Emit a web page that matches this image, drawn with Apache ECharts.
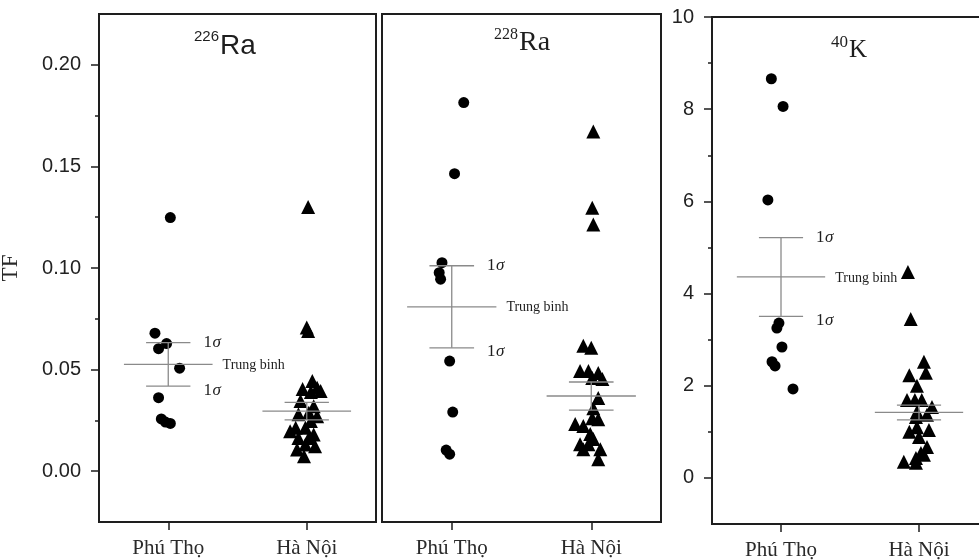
<!DOCTYPE html>
<html>
<head>
<meta charset="utf-8">
<script src="https://cdn.jsdelivr.net/npm/echarts@6/dist/echarts.min.js"></script>
<style>
  html, body { margin: 0; background: #fff; }
  #chart { width: 979px; height: 560px; }
</style>
</head>
<body>
<div id="chart"></div>
<script>
// nhóm (trục x)
const categories = ['Phú Thọ', 'Hà Nội'];
const groupPos = [1, 2];

// 226Ra
const ra226PtValues = [0.1248, 0.0679, 0.0603, 0.0628, 0.0507, 0.0362, 0.0257, 0.0242, 0.0235];
const ra226PtJitter = [0.015, -0.096, -0.07, -0.012, 0.082, -0.07, -0.05, -0.02, 0.015];
const ra226HnValues = [0.130, 0.0707, 0.0690, 0.0444, 0.0411, 0.0405, 0.0390, 0.0395, 0.0345, 0.0320, 0.0280, 0.0270,
  0.0288, 0.0197, 0.0214, 0.0181, 0.0164, 0.0164, 0.0123, 0.0107, 0.0132, 0.0074, 0.0214, 0.0247];
const ra226HnJitter = [0.01, 0, 0.01, 0.04, 0.075, -0.03, 0.03, 0.1, -0.045, 0.05, -0.06, 0.075,
  0.015, -0.12, -0.01, 0.05, -0.06, 0.015, 0.06, -0.07, -0.01, -0.02, -0.08, 0.03];
const ra226Mean = [0.0526, 0.0296];
const ra226Sd = [0.0107, 0.0043];

// 228Ra
const ra228PtValues = [0.1814, 0.1464, 0.1026, 0.0977, 0.0945, 0.0542, 0.0291, 0.0104, 0.0084];
const ra228PtJitter = [0.086, 0.02, -0.07, -0.09, -0.08, -0.015, 0.007, -0.04, -0.015];
const ra228HnValues = [0.1672, 0.1297, 0.1214, 0.0617, 0.0607, 0.0493, 0.0493, 0.0483, 0.0459, 0.0454, 0.036, 0.031,
  0.026, 0.0256, 0.0232, 0.0222, 0.0183, 0.0133, 0.0133, 0.0108, 0.0108, 0.0059, 0.0158];
const ra228HnJitter = [0.015, 0.007, 0.015, -0.057, 0, -0.08, -0.02, 0.05, 0.007, 0.08, 0.05, 0.015,
  0.007, 0.05, -0.115, -0.057, -0.007, -0.08, -0.02, 0.065, -0.057, 0.05, 0.015];
const ra228Mean = [0.0809, 0.037];
const ra228Sd = [0.0202, 0.0069];

// 40K
const kPtValues = [8.66, 8.06, 6.03, 3.36, 3.25, 2.84, 2.52, 2.43, 1.93];
const kPtJitter = [-0.07, 0.015, -0.095, -0.015, -0.03, 0.007, -0.065, -0.043, 0.087];
const kHnValues = [4.47, 3.45, 2.52, 2.23, 2.28, 2.0, 1.69, 1.69, 1.69, 1.54, 1.43, 1.32,
  1.37, 1.0, 1.1, 1.04, 0.89, 0.67, 0.54, 0.43, 0.35, 0.33, 0.5];
const kHnJitter = [-0.08, -0.06, 0.036, -0.07, 0.05, -0.015, -0.087, -0.03, 0.02, 0.094, -0.015, -0.022,
  0.058, -0.07, -0.015, 0.072, 0, 0.058, 0.014, -0.022, -0.11, -0.022, 0.036];
const kMean = [4.36, 1.42];
const kSd = [0.855, 0.16];

// vạch chia
const raTicks = [0, 0.05, 0.1, 0.15, 0.2];
const raMinorTicks = [0.025, 0.075, 0.125, 0.175];
const kTicks = [0, 2, 4, 6, 8, 10];
const kMinorTicks = [1, 3, 5, 7, 9];

const INK = '#1e1e1e';
const SANS = '"Liberation Sans", Arial, sans-serif';
const SERIF = '"Liberation Serif", "Times New Roman", serif';

function points(group, jitter, values) {
  return values.map((v, i) => [groupPos[group] + jitter[i], v]);
}
function statRows(mean, sd) {
  return mean.map((m, i) => [groupPos[i], m, sd[i]]);
}

// thanh trung bình ± 1σ
function renderStats(params, api) {
  const x = api.value(0), m = api.value(1), s = api.value(2);
  const c = api.coord([x, m]);
  const up = api.coord([x, m + s]);
  const lo = api.coord([x, m - s]);
  const unit = api.size([1, 0])[0];
  const meanHalf = unit * 0.32, sdHalf = unit * 0.16;
  const line = (x1, y1, x2, y2) => ({
    type: 'line', shape: { x1, y1, x2, y2 },
    style: { stroke: '#8a8a8a', lineWidth: 1.3 }
  });
  const txt = (tx, ty, t, font) => ({
    type: 'text', x: tx, y: ty,
    style: { text: t, font: font, fill: INK, textAlign: 'left', textVerticalAlign: 'middle' }
  });
  const children = [
    line(c[0], up[1], c[0], lo[1]),
    line(c[0] - meanHalf, c[1], c[0] + meanHalf, c[1]),
    line(c[0] - sdHalf, up[1], c[0] + sdHalf, up[1]),
    line(c[0] - sdHalf, lo[1], c[0] + sdHalf, lo[1])
  ];
  if (params.dataIndex === 0) {
    const sx = c[0] + sdHalf + 13;
    children.push(txt(sx, up[1], '1', '17px ' + SERIF));
    children.push(txt(sx + 9, up[1], 'σ', 'italic 17px ' + SERIF));
    children.push(txt(sx, lo[1] + 4, '1', '17px ' + SERIF));
    children.push(txt(sx + 9, lo[1] + 4, 'σ', 'italic 17px ' + SERIF));
    children.push(txt(c[0] + meanHalf + 10, c[1] + 1, 'Trung binh', '14px ' + SERIF));
  }
  return { type: 'group', children };
}

const grids = [
  { left: 99, top: 14, width: 277, height: 508 },
  { left: 382, top: 14, width: 279, height: 508 },
  { left: 712, top: 17, width: 276, height: 507 }
].map(g => Object.assign(g, {
  show: true, borderColor: INK, borderWidth: 2, backgroundColor: 'transparent', outerBoundsMode: 'none'
}));

const xAxes = [0, 1, 2].map(i => ({
  type: 'value', gridIndex: i, min: 0.5, max: 2.5,
  splitLine: { show: false },
  axisLine: { show: true, onZero: false, lineStyle: { color: INK, width: 2 } },
  axisTick: { show: true, customValues: groupPos, length: 8, lineStyle: { color: INK, width: 1.5 } },
  axisLabel: {
    customValues: groupPos, margin: 16,
    formatter: v => categories[Math.round(v) - 1],
    fontFamily: SERIF, fontSize: 21, color: '#2a2a2a'
  }
}));

function yMajor(gridIndex, min, max, ticks, fmt, extra) {
  return Object.assign({
    type: 'value', gridIndex, min, max, position: 'left',
    splitLine: { show: false },
    axisLine: { show: true, onZero: false, lineStyle: { color: INK, width: 2 } },
    axisTick: { show: true, customValues: ticks, length: 8, lineStyle: { color: INK, width: 1.5 } },
    axisLabel: { customValues: ticks, margin: 18, formatter: fmt, fontFamily: SANS, fontSize: 20, color: '#222' }
  }, extra || {});
}
function yMinor(gridIndex, min, max, ticks) {
  return {
    type: 'value', gridIndex, min, max, position: 'left', offset: 0,
    splitLine: { show: false },
    axisLine: { show: false, onZero: false },
    axisTick: { show: true, customValues: ticks, length: 4, lineStyle: { color: INK, width: 1.5 } },
    axisLabel: { show: false }
  };
}

const yAxes = [
  yMajor(0, -0.025, 0.225, raTicks, v => v.toFixed(2), {
    name: 'TF', nameLocation: 'middle', nameGap: 77, nameRotate: 90,
    nameTextStyle: { fontFamily: SERIF, fontSize: 23, color: '#2a2a2a' }
  }),
  yMinor(0, -0.025, 0.225, raMinorTicks),
  {
    type: 'value', gridIndex: 1, min: -0.025, max: 0.225,
    splitLine: { show: false },
    axisLine: { show: true, onZero: false, lineStyle: { color: INK, width: 2 } },
    axisTick: { show: false }, axisLabel: { show: false }
  },
  yMajor(2, -1, 10, kTicks, v => String(v)),
  yMinor(2, -1, 10, kMinorTicks)
];

function scatter(xi, yi, data, symbol, size) {
  return {
    type: 'scatter', xAxisIndex: xi, yAxisIndex: yi, data,
    symbol, symbolSize: size, itemStyle: { color: '#000', opacity: 1 }, z: 2
  };
}
function stats(xi, yi, mean, sd) {
  return {
    type: 'custom', xAxisIndex: xi, yAxisIndex: yi, data: statRows(mean, sd),
    renderItem: renderStats, z: 5, clip: false
  };
}

const series = [
  scatter(0, 0, points(0, ra226PtJitter, ra226PtValues), 'circle', 11),
  scatter(0, 0, points(1, ra226HnJitter, ra226HnValues), 'triangle', 14),
  stats(0, 0, ra226Mean, ra226Sd),
  scatter(1, 2, points(0, ra228PtJitter, ra228PtValues), 'circle', 11),
  scatter(1, 2, points(1, ra228HnJitter, ra228HnValues), 'triangle', 14),
  stats(1, 2, ra228Mean, ra228Sd),
  scatter(2, 3, points(0, kPtJitter, kPtValues), 'circle', 11),
  scatter(2, 3, points(1, kHnJitter, kHnValues), 'triangle', 14),
  stats(2, 3, kMean, kSd)
];

// tiêu đề từng ô (chỉ số trên)
function isotope(x, y, mass, sym, font, supSize, symSize, supDy) {
  return [
    { type: 'text', x: x, y: y + supDy, style: { text: mass, font: supSize + 'px ' + font, fill: INK, textAlign: 'right', textVerticalAlign: 'middle' } },
    { type: 'text', x: x + 1, y: y, style: { text: sym, font: symSize + 'px ' + font, fill: INK, textAlign: 'left', textVerticalAlign: 'middle' } }
  ];
}

const chart = echarts.init(document.getElementById('chart'));
chart.setOption({
  animation: false,
  backgroundColor: '#fff',
  grid: grids,
  xAxis: xAxes,
  yAxis: yAxes,
  series: series,
  graphic: [].concat(
    isotope(219, 46, '226', 'Ra', SANS, 15, 28, -9),
    isotope(518, 43, '228', 'Ra', SERIF, 16, 28, -8),
    isotope(848, 50, '40', 'K', SERIF, 17, 25, -7)
  )
});
</script>
</body>
</html>
